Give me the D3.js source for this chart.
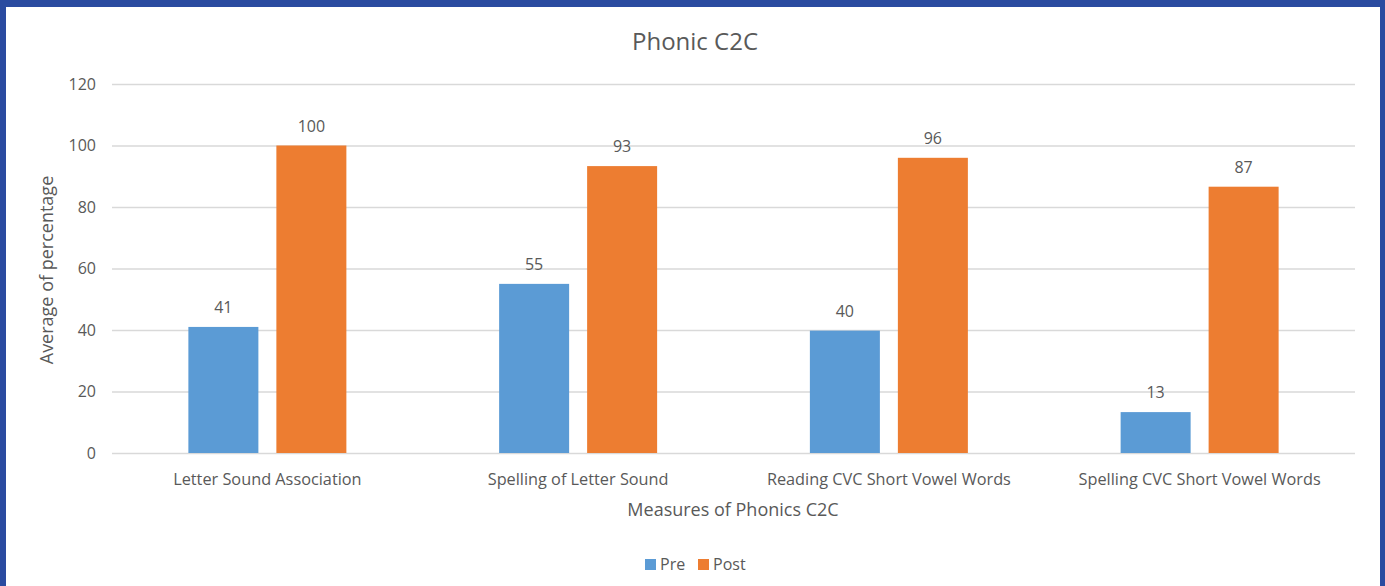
<!DOCTYPE html>
<html><head><meta charset="utf-8">
<script src="https://cdn.jsdelivr.net/npm/d3@7"></script>
<style>
html,body{margin:0;padding:0;background:#2a4ba0;}
svg{display:block;}
text{font-family:"Open Sans","Liberation Sans",sans-serif;fill:#595959;}
</style></head>
<body>
<svg id="c" width="1385" height="586"></svg>
<script>
const categories = ["Letter Sound Association","Spelling of Letter Sound","Reading CVC Short Vowel Words","Spelling CVC Short Vowel Words"];
const seriesNames = ["Pre","Post"];
const preValues = [41, 55, 39.8, 13.3];
const postValues = [100, 93.3, 96, 86.6];
const yTicks = [0,20,40,60,80,100,120];
const colors = ["#5b9bd5","#ed7d31"];

const svg = d3.select("#c");
svg.append("rect").attr("x",6).attr("y",7).attr("width",1374).attr("height",579).attr("fill","#fff");

const pLeft=112, pRight=1355, pTop=84, pBottom=453;
const fs = 16;
const x = d3.scaleBand().domain(categories).range([pLeft,pRight]).paddingInner(0).paddingOuter(0);
const xs = d3.scaleBand().domain(seriesNames).range([0,x.bandwidth()]).paddingInner(0.2045).paddingOuter(0.868);
const y = d3.scaleLinear().domain([0,120]).range([pBottom,pTop]);

const yAxis = d3.axisLeft(y).tickValues(yTicks).tickSize(-(pRight-pLeft)).tickPadding(16);
const gy = svg.append("g").attr("transform",`translate(${pLeft},0)`).call(yAxis);
gy.select(".domain").remove();
gy.selectAll(".tick line").attr("stroke","#d9d9d9").attr("stroke-width",1.3);
gy.selectAll(".tick text").attr("font-size",fs).attr("fill","#595959").style("font-family","'Open Sans',sans-serif");

const xAxis = d3.axisBottom(x).tickSize(0).tickPadding(20);
const gx = svg.append("g").attr("transform",`translate(0,${pBottom})`).call(xAxis);
gx.select(".domain").remove();
gx.selectAll(".tick text").attr("font-size",16.3).attr("fill","#595959").style("font-family","'Open Sans',sans-serif");

const data = categories.map((c,i)=>({cat:c, vals:[{s:"Pre",v:preValues[i]},{s:"Post",v:postValues[i]}]}));
const grp = svg.append("g").selectAll("g").data(data).join("g").attr("transform",d=>`translate(${x(d.cat)},0)`);
grp.selectAll("rect").data(d=>d.vals).join("rect")
  .attr("x",d=>xs(d.s)).attr("width",xs.bandwidth())
  .attr("y",d=>y(d.v)).attr("height",d=>y(0)-y(d.v))
  .attr("fill",(d,i)=>colors[i]);
grp.selectAll("text").data(d=>d.vals).join("text")
  .attr("x",d=>xs(d.s)+xs.bandwidth()/2).attr("y",d=>y(d.v)-14)
  .attr("text-anchor","middle").attr("font-size",fs)
  .text(d=>d3.format(".0f")(d.v));

svg.append("text").attr("x",695).attr("y",50).attr("text-anchor","middle").attr("font-size",24).text("Phonic C2C");
svg.append("text").attr("x",733).attr("y",516).attr("text-anchor","middle").attr("font-size",18).text("Measures of Phonics C2C");
svg.append("text").attr("transform","translate(53,270) rotate(-90)").attr("text-anchor","middle").attr("font-size",18).text("Average of percentage");

const leg = svg.append("g").selectAll("g").data(seriesNames).join("g")
  .attr("transform",(d,i)=>`translate(${[645,698][i]},559)`);
leg.append("rect").attr("width",11).attr("height",11).attr("fill",(d,i)=>colors[i]);
leg.append("text").attr("x",15).attr("y",11).attr("font-size",fs).text(d=>d);
</script>
</body></html>
